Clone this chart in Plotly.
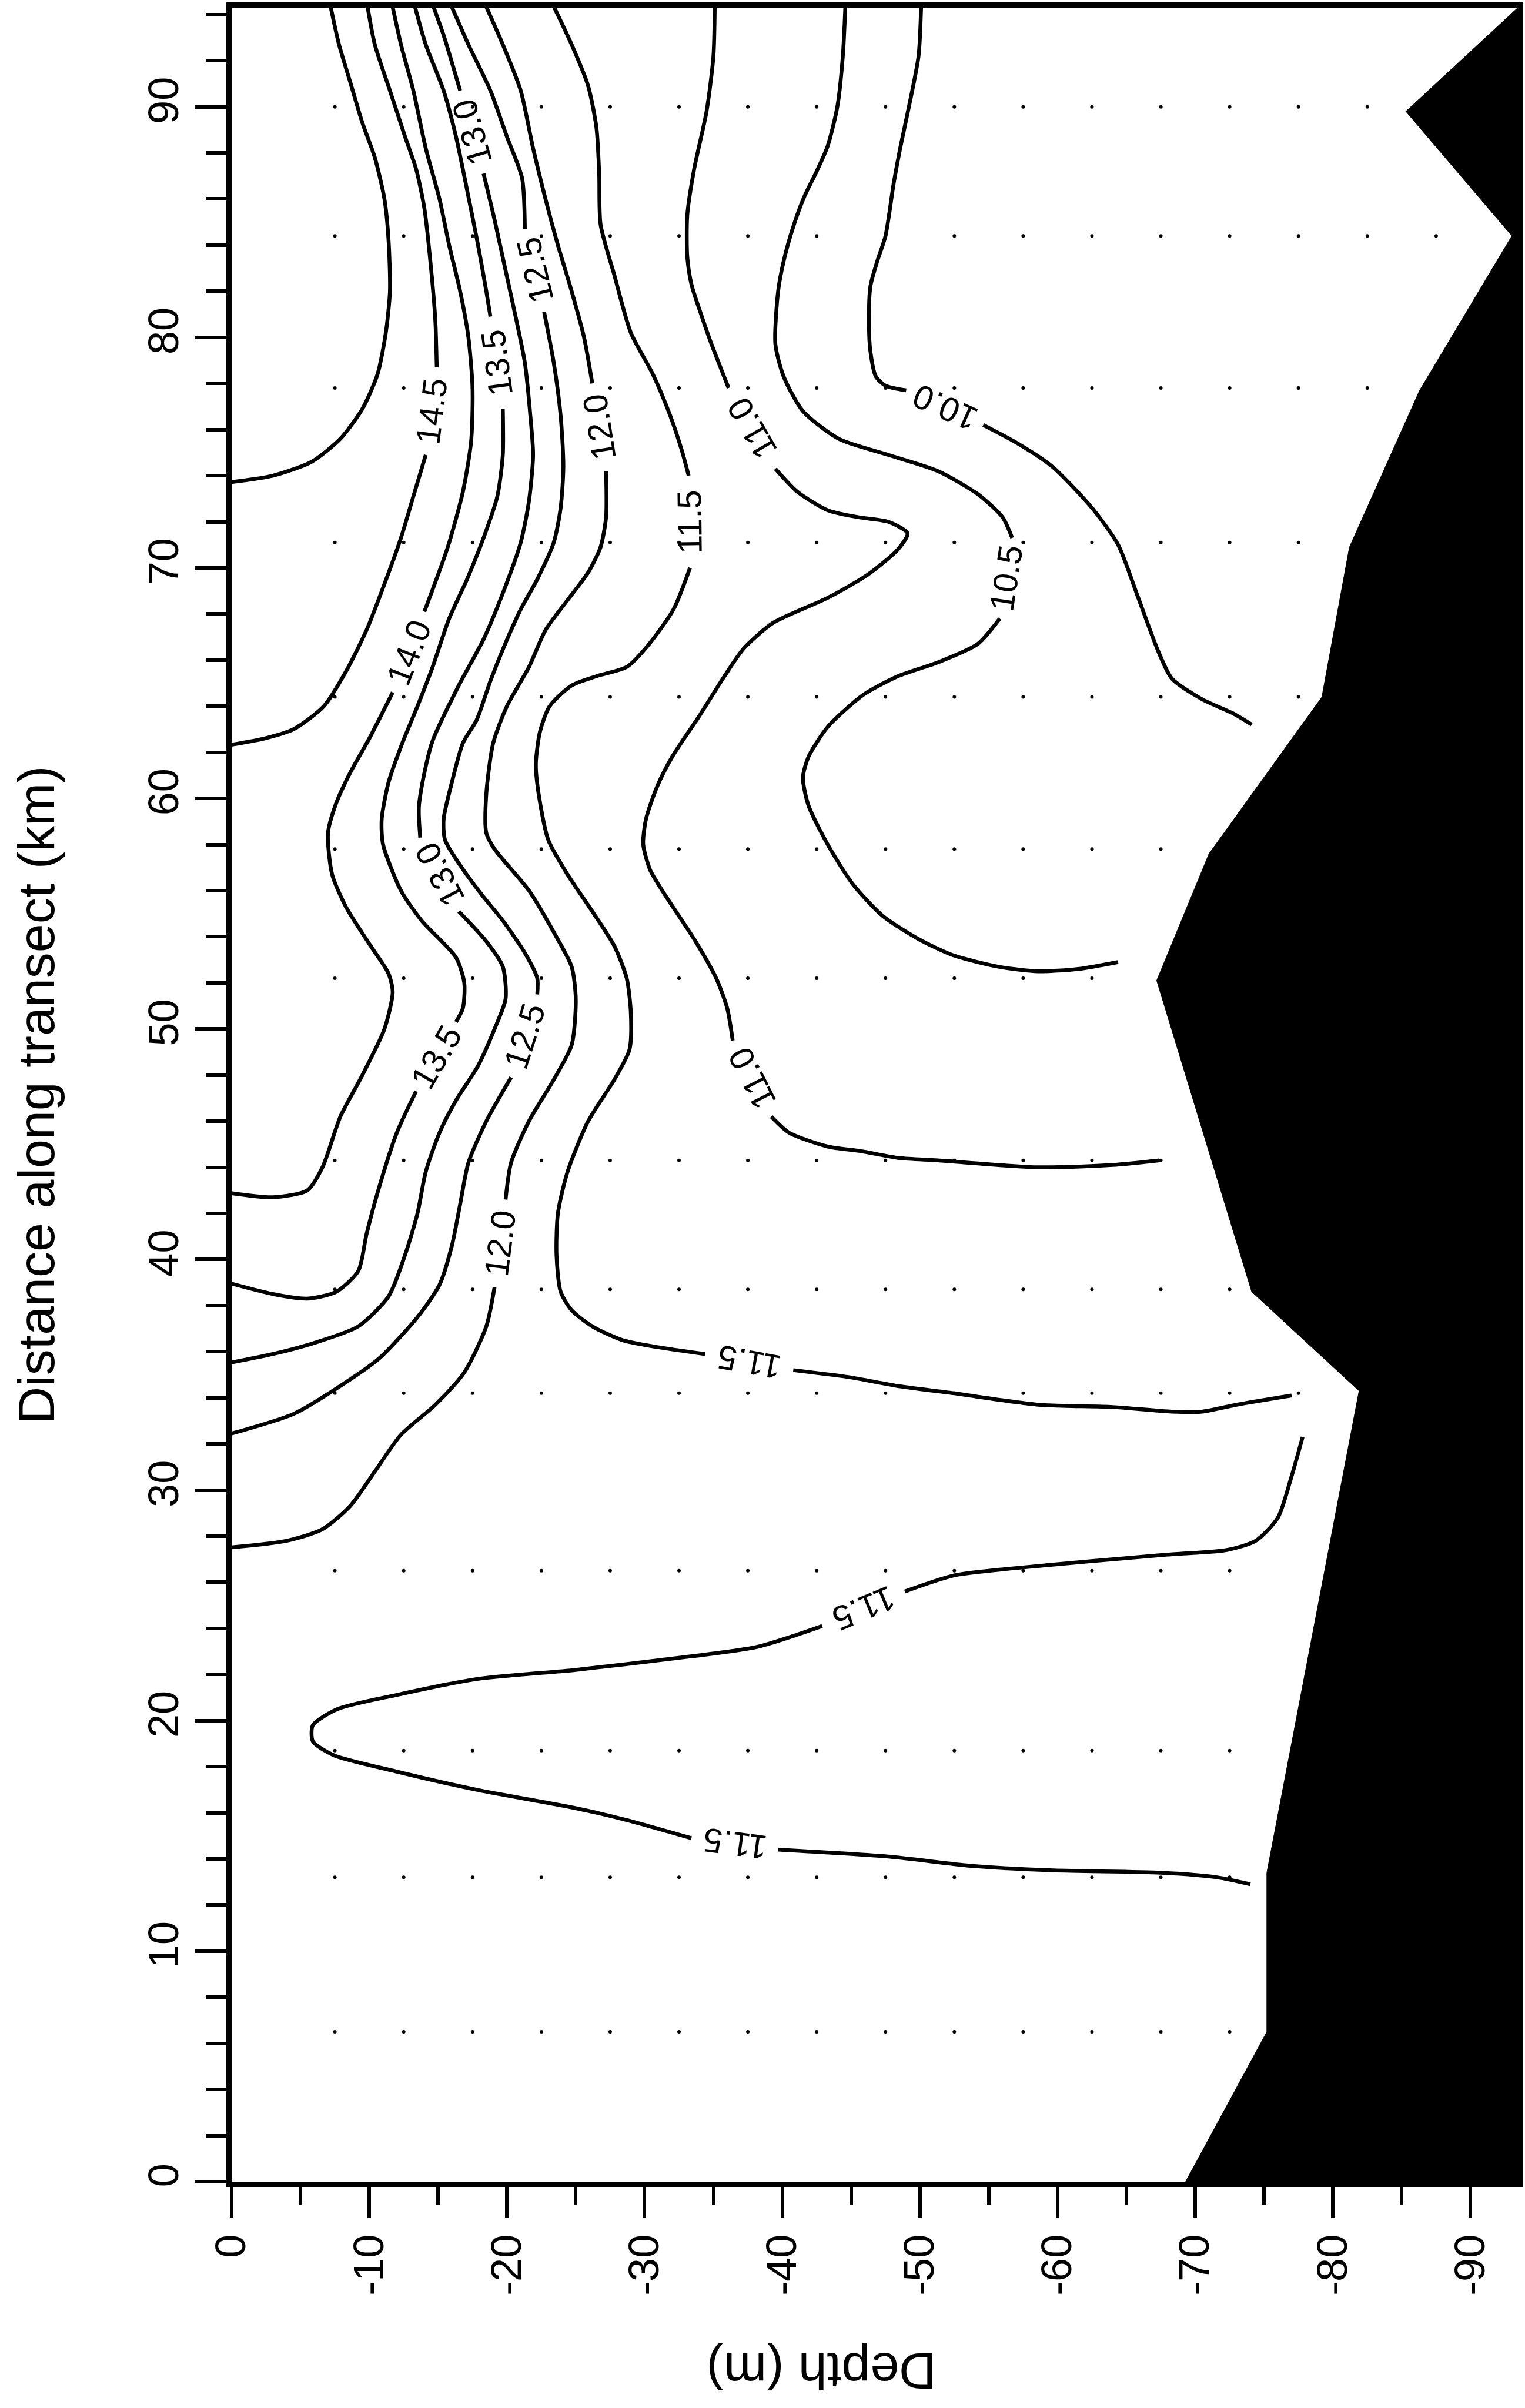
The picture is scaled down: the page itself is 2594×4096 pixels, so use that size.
import math
import plotly.graph_objects as go

# ---------------- axis ticks ----------------
depth_ticks = [0, -10, -20, -30, -40, -50, -60, -70, -80, -90]
depth_tick_text = ["0", "-10", "-20", "-30", "-40", "-50", "-60", "-70", "-80", "-90"]
dist_ticks = [0, 10, 20, 30, 40, 50, 60, 70, 80, 90]
dist_tick_text = ["0", "10", "20", "30", "40", "50", "60", "70", "80", "90"]

# ---------------- bottom (bathymetry) ----------------
bottom_depth = [-68.85, -69.3, -75.2, -75.2, -81.9, -74.1, -67.2, -71.0, -79.2, -81.2, -86.3, -93.0, -85.3, -92.9, -93.8, -100, -100]
bottom_dist = [-0.5, 0.0, 6.5, 13.4, 34.3, 38.6, 52.1, 57.6, 64.4, 70.9, 77.7, 84.4, 89.8, 94.0, 94.5, 94.5, -0.5]

# ---------------- sampling stations ----------------
station_dist = [6.5, 13.2, 18.7, 26.5, 34.2, 38.7, 44.3, 52.2, 57.8, 64.4, 71.1, 77.8, 84.4, 90.0]
station_last_depth = [-72.5, -72.5, -72.5, -72.5, -77.5, -72.5, -67.5, -62.5, -67.5, -77.5, -77.5, -82.5, -87.5, -82.5]
first_sample_depth = -7.5
sample_step = 5.0

# ---------------- traced isotherms (depth m, distance km); None = label gap ----------------
t150_depth = [-7.1, -7.8, -8.6, -9.5, -10.4, -11.1, -11.4, -11.5, -11.2, -10.6, -9.5, -7.9, -5.8, -3.0, 0.3]
t150_dist = [94.6, 92.7, 91.1, 89.3, 87.8, 86.0, 84.2, 82.0, 80.2, 78.4, 76.9, 75.6, 74.6, 74.0, 73.7]

t145_depth = [-9.8, -10.4, -11.5, -12.6, -13.4, -14.0, -14.5, -14.8, -14.9, None,
              -14.1, -13.2, -12.3, -11.1, -9.8, -8.3, -6.7, -4.5, -2.4, 0.3]
t145_dist = [94.6, 92.7, 90.7, 88.7, 87.3, 85.6, 82.9, 80.7, 78.7, None,
             74.9, 73.1, 71.3, 69.3, 67.3, 65.5, 64.0, 63.0, 62.6, 62.3]

t140_depth = [-11.6, -12.3, -13.2, -14.1, -15.1, -15.8, -16.6, -17.2, -17.5, -17.4, -16.8, -15.7, -14.0, None,
              -11.7, -10.0, -8.6, -7.6, -7.0, -7.3, -8.3, -10.1, -11.4, -11.7, -11.1, -9.5, -7.9, -6.6, -5.5, -3.0, 0.3]
t140_dist = [94.6, 92.7, 90.7, 88.2, 86.0, 84.0, 82.0, 80.0, 77.8, 75.5, 73.3, 70.9, 68.1, None,
             64.6, 62.6, 61.1, 59.8, 58.5, 56.7, 55.3, 53.6, 52.4, 51.6, 50.0, 48.0, 46.2, 44.0, 43.0, 42.7, 42.9]

t135_depth = [-13.2, -14.1, -15.4, -16.3, -17.1, -17.9, -18.5, -18.8, None,
              -19.7, -19.7, -19.3, -18.3, -17.1, -15.8, -14.6, -13.5, -12.4, -11.4, -10.9, -11.0, -12.3, -13.8, -16.3, -16.9, -16.8, -16.3, None,
              -13.4, -12.0, -10.7, -9.8, -9.2, -7.6, -5.5, -3.0, 0.3]
t135_dist = [94.6, 92.7, 90.7, 88.7, 86.4, 84.0, 82.0, 80.9, None,
             76.9, 74.9, 73.1, 71.3, 69.5, 67.8, 65.7, 64.0, 62.4, 60.7, 59.1, 58.0, 56.0, 54.7, 53.1, 52.0, 50.9, 50.3, None,
             47.3, 45.5, 43.1, 41.1, 39.5, 38.6, 38.3, 38.5, 39.0]

t130_depth = [-14.5, -15.4, -16.6, None,
              -18.3, -19.1, -19.9, -20.7, -21.3, -21.7, -21.9, -21.6, -21.0, -19.7, -18.3, -16.5, -14.6, -14.0, -13.6, -13.7, None,
              -16.5, -18.5, -19.7, -19.9, -19.1, -17.9, -16.3, -15.1, -14.1, -13.5, -12.6, -11.4, -9.2, -6.1, -3.0, 0.3]
t130_dist = [94.6, 93.1, 90.7, None,
             87.1, 85.1, 82.9, 80.7, 78.9, 76.6, 74.9, 72.9, 71.1, 68.9, 66.9, 64.9, 62.5, 61.1, 59.6, 58.3, None,
             55.1, 53.8, 52.7, 51.3, 50.0, 48.4, 46.9, 45.5, 43.8, 42.0, 40.2, 38.4, 37.1, 36.4, 35.9, 35.5]

t125_depth = [-15.8, -17.2, -18.8, -20.0, -21.1, -21.3, None,
              -22.7, -23.4, -23.9, -24.1, -23.9, -23.4, -22.2, -21.0, -19.8, -18.8, -17.8, -16.8, -16.0, -15.4, -15.5, -16.6, -18.2, -19.7, -21.3, -22.2, -22.2, None,
              -20.3, -18.5, -17.2, -16.6, -16.0, -15.1, -13.5, -10.7, -7.6, -4.5, 0.3]
t125_dist = [94.6, 92.7, 90.7, 88.7, 86.9, 84.7, None,
             81.1, 78.9, 76.6, 74.4, 72.6, 71.1, 69.5, 68.2, 66.6, 65.1, 63.4, 62.4, 60.7, 59.1, 58.2, 57.1, 55.8, 54.7, 53.3, 52.2, 51.5, None,
             47.9, 46.0, 44.2, 42.4, 40.6, 38.9, 37.5, 35.7, 34.4, 33.3, 32.4]

t120_depth = [-18.3, -19.7, -21.0, -21.9, -22.8, -23.7, -24.7, -25.6, -26.2, None,
              -27.2, -27.2, -26.8, -25.9, -24.4, -22.8, -21.6, -20.0, -19.0, -18.5, -18.5, -19.1, -21.6, -23.4, -24.7, -25.0, -24.7, -23.4, -21.6, -20.3, -19.9, None,
              -19.1, -18.5, -16.9, -14.8, -12.3, -10.4, -8.6, -6.6, -4.0, 0.3]
t120_dist = [94.6, 92.7, 90.7, 88.2, 86.0, 84.0, 82.0, 80.0, 78.0, None,
             74.2, 72.2, 70.9, 69.8, 68.6, 67.3, 65.7, 64.0, 62.4, 60.2, 58.5, 57.8, 56.0, 54.2, 52.7, 51.3, 49.3, 47.8, 46.0, 44.2, 42.6, None,
             38.8, 37.1, 35.1, 33.7, 32.4, 30.8, 29.3, 28.3, 27.8, 27.5]

t115a_depth = [-23.2, -24.7, -25.9, -26.5, -26.7, -26.8, -27.8, -29.0, -30.6, -31.8, -32.7, -33.2, None,
               -33.3, -32.1, -30.2, -28.7, -26.5, -24.7, -23.1, -22.4, -22.1, -22.3, -23.0, -24.4, -26.2, -27.8, -28.7, -29.0, -28.9, -27.8, -25.9, -24.4, -23.7, -23.6, -23.9, -24.7, -26.2, -28.4, -30.9, -34.4, None,
               -40.8, -44.8, -48.5, -52.4, -58.6, -64.0, -68.3, -70.5, -73.0, -77.0]
t115a_dist = [94.6, 92.7, 90.9, 89.1, 87.1, 84.9, 82.7, 80.2, 78.4, 76.7, 75.1, 74.0, None,
              70.0, 68.2, 66.6, 65.7, 65.3, 64.9, 64.0, 62.9, 61.5, 60.2, 58.2, 56.7, 55.1, 53.6, 52.2, 50.7, 49.1, 47.8, 46.0, 43.8, 42.0, 40.2, 38.6, 37.8, 37.1, 36.5, 36.2, 35.9, None,
              35.2, 34.9, 34.5, 34.2, 33.7, 33.6, 33.4, 33.4, 33.7, 34.1]

t115b_depth = [-77.8, -77.0, -76.0, -74.4, -72.3, -68.0, -62.2, -56.7, -52.5, -48.9, None,
               -42.9, -38.2, -32.2, -25.0, -17.8, -11.9, -7.7, -5.9, -5.9, -7.4, -11.9, -17.8, -25.0, -28.6, -33.4, None,
               -39.7, -47.7, -53.7, -59.7, -67.5, -71.6, -74.0]
t115b_dist = [32.3, 30.6, 28.8, 27.8, 27.4, 27.2, 26.9, 26.6, 26.3, 25.6, None,
              24.1, 23.2, 22.7, 22.2, 21.8, 21.1, 20.5, 19.8, 19.1, 18.5, 17.8, 17.0, 16.2, 15.7, 14.9, None,
              14.4, 14.1, 13.7, 13.5, 13.4, 13.2, 12.9]

t110_depth = [-35.1, -35.0, -34.5, -33.6, -33.1, -33.1, -33.4, -34.1, -34.8, -36.1, None,
              -39.5, -41.1, -43.3, -45.5, -47.7, -49.1, -48.4, -46.2, -43.3, -39.3, -37.2, -35.8, -34.0, -32.0, -30.9, -30.1, -29.9, -30.4, -31.5, -33.7, -35.2, -36.0, -36.4, None,
              -39.2, -40.5, -43.3, -45.7, -48.5, -51.3, -58.6, -64.0, -67.4]
t110_dist = [94.6, 92.2, 89.8, 87.3, 85.3, 83.5, 82.3, 81.0, 79.8, 77.8, None,
             74.3, 73.3, 72.5, 72.2, 72.0, 71.5, 70.8, 69.7, 68.7, 67.6, 66.5, 65.3, 63.6, 61.8, 60.5, 59.1, 58.0, 56.9, 55.8, 53.8, 52.2, 50.9, 49.5, None,
             46.2, 45.5, 44.9, 44.7, 44.4, 44.3, 44.0, 44.1, 44.3]

t105_depth = [-44.6, -44.4, -44.0, -43.3, -42.5, -41.6, -40.8, -40.1, -39.7, -39.5, -40.1, -41.5, -44.1, -47.7, -51.3, -54.2, -56.0, -56.7, None,
              -55.8, -54.2, -51.3, -48.4, -45.9, -43.3, -41.9, -41.5, -41.9, -43.3, -45.1, -47.3, -49.9, -52.4, -55.7, -58.6, -61.5, -64.4]
t105_dist = [94.6, 92.2, 90.0, 88.3, 87.2, 86.1, 84.8, 83.3, 82.0, 79.7, 78.3, 76.8, 75.6, 74.9, 74.2, 73.2, 72.2, 71.3, None,
             67.8, 66.7, 65.9, 65.3, 64.5, 63.1, 61.8, 60.9, 59.7, 58.0, 56.3, 54.9, 53.9, 53.2, 52.7, 52.5, 52.6, 52.9]

t100_depth = [-50.1, -49.9, -49.2, -48.6, -48.1, -47.5, -46.9, -46.4, -46.3, -46.4, -46.8, -47.5, -49.0, None,
              -54.6, -57.1, -59.6, -62.5, -64.4, -65.8, -67.3, -68.3, -70.5, -72.7, -74.1]
t100_dist = [94.6, 92.2, 90.0, 88.3, 86.7, 84.4, 83.3, 82.2, 80.5, 79.4, 78.3, 77.9, 77.7, None,
             76.2, 75.4, 74.4, 72.6, 71.0, 68.8, 66.4, 65.2, 64.3, 63.7, 63.2]

isotherms = [
    # (level label, depths, distances, label reading reversed per gap)
    ("15.0", t150_depth, t150_dist, []),
    ("14.5", t145_depth, t145_dist, [True]),
    ("14.0", t140_depth, t140_dist, [True]),
    ("13.5", t135_depth, t135_dist, [True, True]),
    ("13.0", t130_depth, t130_dist, [True, True]),
    ("12.5", t125_depth, t125_dist, [True, True]),
    ("12.0", t120_depth, t120_dist, [True, True]),
    ("11.5", t115a_depth, t115a_dist, [True, True]),
    ("11.5", t115b_depth, t115b_dist, [False, True]),
    ("11.0", t110_depth, t110_dist, [True, True]),
    ("10.5", t105_depth, t105_dist, [True]),
    ("10.0", t100_depth, t100_dist, [True]),
]

# ---------------- layout geometry ----------------
W, H = 2594, 4096
ML, MR, MT, MB = 394, 4, 8, 385
x_range = [0, -93.4]
y_range = [0, 94.3]
plot_w = W - ML - MR
plot_h = H - MT - MB
px_per_m = plot_w / abs(x_range[1] - x_range[0])
px_per_km = plot_h / (y_range[1] - y_range[0])

FONT = "Liberation Sans, Arial, Helvetica, sans-serif"

fig = go.Figure()

# sample dots
dot_x, dot_y = [], []
for d, last in zip(station_dist, station_last_depth):
    z = first_sample_depth
    while z >= last - 1e-6:
        dot_x.append(z)
        dot_y.append(d)
        z -= sample_step
fig.add_trace(go.Scatter(x=dot_x, y=dot_y, mode="markers",
                         marker=dict(size=6, color="black"), hoverinfo="skip"))

# isotherm lines + labels
annotations = []
for text, dep, dist, flips in isotherms:
    fig.add_trace(go.Scatter(x=dep, y=dist, mode="lines", connectgaps=False,
                             line=dict(color="black", width=6.5, shape="spline", smoothing=0.7),
                             hoverinfo="skip"))
    gap_i = 0
    for i, v in enumerate(dep):
        if v is None:
            a = (dep[i - 1], dist[i - 1])
            b = (dep[i + 1], dist[i + 1])
            dx = -(b[0] - a[0]) * px_per_m
            dy = -(b[1] - a[1]) * px_per_km
            ang = math.degrees(math.atan2(dy, dx))
            if flips[gap_i]:
                ang += 180
            while ang > 180:
                ang -= 360
            while ang <= -180:
                ang += 360
            annotations.append(dict(x=(a[0] + b[0]) / 2, y=(a[1] + b[1]) / 2,
                                    xref="x", yref="y", text=text, showarrow=False,
                                    textangle=ang, xanchor="center", yanchor="middle",
                                    font=dict(family=FONT, size=58, color="black")))
            gap_i += 1

# bottom
fig.add_trace(go.Scatter(x=bottom_depth, y=bottom_dist, mode="lines", fill="toself",
                         fillcolor="black", line=dict(color="black", width=1),
                         hoverinfo="skip"))

# axis titles
annotations.append(dict(x=(60 - ML) / plot_w, y=0.5, xref="paper", yref="paper",
                        text="Distance along transect (km)", textangle=-90, showarrow=False,
                        xanchor="center", yanchor="middle",
                        font=dict(family=FONT, size=88, color="black")))
annotations.append(dict(x=(1401 - ML) / plot_w, y=(plot_h + MT - 4034) / plot_h,
                        xref="paper", yref="paper",
                        text="Depth (m)", textangle=180, showarrow=False,
                        xanchor="center", yanchor="middle",
                        font=dict(family=FONT, size=88, color="black")))

fig.update_layout(
    width=W, height=H,
    margin=dict(l=ML, r=MR, t=MT, b=MB),
    paper_bgcolor="white", plot_bgcolor="white",
    showlegend=False,
    annotations=annotations,
    xaxis=dict(range=x_range, autorange=False, tickmode="array",
               tickvals=depth_ticks, ticktext=depth_tick_text,
               ticks="outside", ticklen=52, tickwidth=6, tickcolor="black",
               tickangle=-90, tickfont=dict(family=FONT, size=72, color="black"),
               minor=dict(dtick=5, tick0=0, ticks="outside", ticklen=31, tickwidth=5.5, tickcolor="black"),
               showgrid=False, zeroline=False, showline=True, linewidth=9, linecolor="black",
               mirror=True),
    yaxis=dict(range=y_range, autorange=False, tickmode="array",
               tickvals=dist_ticks, ticktext=dist_tick_text,
               ticks="outside", ticklen=53, tickwidth=6, tickcolor="black",
               tickangle=-90, tickfont=dict(family=FONT, size=72, color="black"),
               minor=dict(dtick=2, tick0=0, ticks="outside", ticklen=34, tickwidth=5.5, tickcolor="black"),
               showgrid=False, zeroline=False, showline=True, linewidth=9, linecolor="black",
               mirror=True),
)

fig.write_html("out.html")
